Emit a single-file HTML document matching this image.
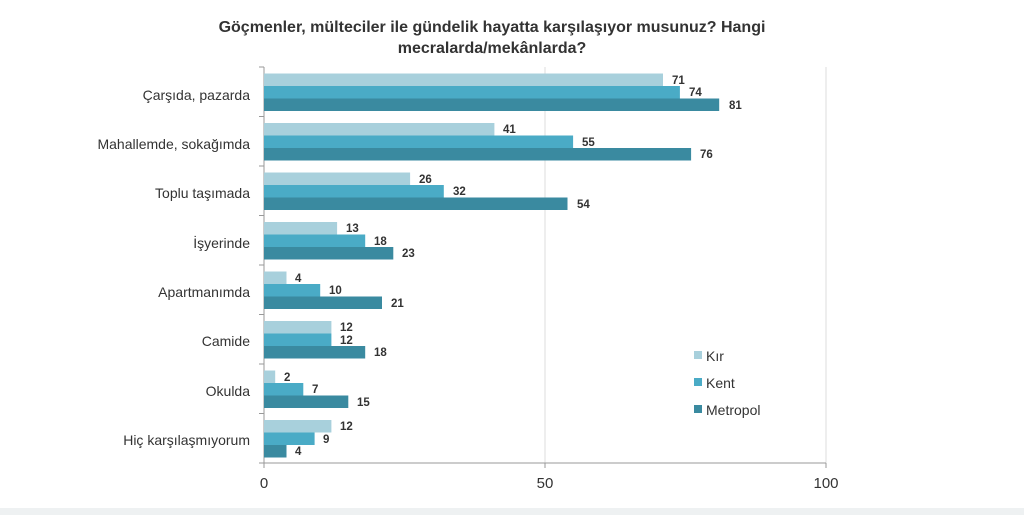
<!DOCTYPE html>
<html><head><meta charset="utf-8"><style>
body{margin:0;background:#fff;}
</style></head><body>
<svg width="1024" height="515" xmlns="http://www.w3.org/2000/svg" font-family="Liberation Sans, sans-serif">
<rect x="0" y="0" width="1024" height="515" fill="#fff"/>
<rect x="0" y="508" width="1024" height="7" fill="#eef1f2"/>
<text x="492" y="32" text-anchor="middle" font-size="16" font-weight="bold" fill="#333">Göçmenler, mülteciler ile gündelik hayatta karşılaşıyor musunuz? Hangi</text>
<text x="492" y="53" text-anchor="middle" font-size="16" font-weight="bold" fill="#333">mecralarda/mekânlarda?</text>
<line x1="545" y1="67" x2="545" y2="463" stroke="#ddd" stroke-width="1"/>
<line x1="826" y1="67" x2="826" y2="463" stroke="#ddd" stroke-width="1"/>
<g id="bars"></g>
<line x1="264" y1="67" x2="264" y2="463" stroke="#999" stroke-width="1"/>
<line x1="264" y1="463" x2="826" y2="463" stroke="#999" stroke-width="1"/>
<g stroke="#999" stroke-width="1">
<line x1="259" y1="67" x2="264" y2="67"/><line x1="259" y1="116.5" x2="264" y2="116.5"/><line x1="259" y1="166" x2="264" y2="166"/><line x1="259" y1="215.5" x2="264" y2="215.5"/><line x1="259" y1="265" x2="264" y2="265"/><line x1="259" y1="314.5" x2="264" y2="314.5"/><line x1="259" y1="364" x2="264" y2="364"/><line x1="259" y1="413.5" x2="264" y2="413.5"/><line x1="259" y1="463" x2="264" y2="463"/>
<line x1="264" y1="463" x2="264" y2="468"/><line x1="545" y1="463" x2="545" y2="468"/><line x1="826" y1="463" x2="826" y2="468"/>
</g>
<g font-size="15" fill="#333" text-anchor="middle">
<text x="264" y="488">0</text><text x="545" y="488">50</text><text x="826" y="488">100</text>
</g>
<g font-size="14" fill="#333" text-anchor="end">
<text x="250" y="100">Çarşıda, pazarda</text>
<text x="250" y="149">Mahallemde, sokağımda</text>
<text x="250" y="198">Toplu taşımada</text>
<text x="250" y="248">İşyerinde</text>
<text x="250" y="297">Apartmanımda</text>
<text x="250" y="346">Camide</text>
<text x="250" y="396">Okulda</text>
<text x="250" y="445">Hiç karşılaşmıyorum</text>
</g>
<g id="g"></g>
<rect x="694" y="351" width="8" height="8" fill="#a8d0dc"/>
<rect x="694" y="378" width="8" height="8" fill="#4aabc6"/>
<rect x="694" y="405" width="8" height="8" fill="#3a8aa0"/>
<g font-size="14" fill="#333">
<text x="706" y="361">Kır</text><text x="706" y="388">Kent</text><text x="706" y="415">Metropol</text>
</g>
<g>
<!-- generated bars -->
<g fill="#a8d0dc">
<rect x="264" y="73.5" width="399" height="12.5"/><rect x="264" y="123" width="230.4" height="12.5"/><rect x="264" y="172.5" width="146.1" height="12.5"/><rect x="264" y="222" width="73.1" height="12.5"/><rect x="264" y="271.5" width="22.5" height="12.5"/><rect x="264" y="321" width="67.4" height="12.5"/><rect x="264" y="370.5" width="11.2" height="12.5"/><rect x="264" y="420" width="67.4" height="12.5"/>
</g>
<g fill="#4aabc6">
<rect x="264" y="86" width="415.9" height="12.5"/><rect x="264" y="135.5" width="309.1" height="12.5"/><rect x="264" y="185" width="179.8" height="12.5"/><rect x="264" y="234.5" width="101.2" height="12.5"/><rect x="264" y="284" width="56.2" height="12.5"/><rect x="264" y="333.5" width="67.4" height="12.5"/><rect x="264" y="383" width="39.3" height="12.5"/><rect x="264" y="432.5" width="50.6" height="12.5"/>
</g>
<g fill="#3a8aa0">
<rect x="264" y="98.5" width="455.2" height="12.5"/><rect x="264" y="148" width="427.1" height="12.5"/><rect x="264" y="197.5" width="303.5" height="12.5"/><rect x="264" y="247" width="129.3" height="12.5"/><rect x="264" y="296.5" width="118" height="12.5"/><rect x="264" y="346" width="101.2" height="12.5"/><rect x="264" y="395.5" width="84.3" height="12.5"/><rect x="264" y="445" width="22.5" height="12.5"/>
</g>
<g font-size="11.5" font-weight="bold" fill="#333">
<text x="672" y="84">71</text><text x="689" y="96">74</text><text x="729" y="109">81</text>
<text x="503" y="133">41</text><text x="582" y="146">55</text><text x="700" y="158">76</text>
<text x="419" y="183">26</text><text x="453" y="195">32</text><text x="577" y="208">54</text>
<text x="346" y="232">13</text><text x="374" y="245">18</text><text x="402" y="257">23</text>
<text x="295" y="282">4</text><text x="329" y="294">10</text><text x="391" y="307">21</text>
<text x="340" y="331">12</text><text x="340" y="344">12</text><text x="374" y="356">18</text>
<text x="284" y="381">2</text><text x="312" y="393">7</text><text x="357" y="406">15</text>
<text x="340" y="430">12</text><text x="323" y="443">9</text><text x="295" y="455">4</text>
</g>
</g>
</svg>
</body></html>
